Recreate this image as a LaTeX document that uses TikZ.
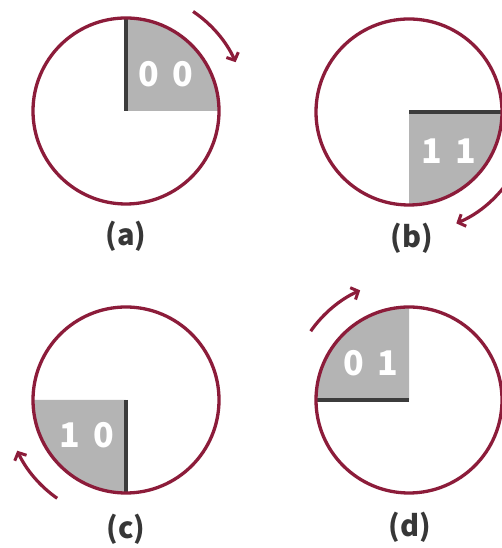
\documentclass[tikz,border=0pt]{standalone}
\usepackage{fontspec}
\newfontfamily\cjkfont{Noto Sans CJK KR}
\usetikzlibrary{arrows.meta}
\definecolor{ring}{RGB}{140,28,58}
\definecolor{quad}{RGB}{180,180,180}
\definecolor{edge}{RGB}{60,60,60}
\definecolor{labc}{RGB}{55,55,55}
\tikzset{
  ringline/.style={draw=ring, line width=3.3pt},
  quadfill/.style={fill=quad},
  edgeline/.style={draw=edge, line width=3.4pt},
  rotarrow/.style={draw=ring, line width=3.2pt, -{Straight Barb[length=6pt,width=13pt,line width=3pt]}},
  digits/.style={text=white, font=\cjkfont\bfseries\fontsize{34}{34}\selectfont, inner sep=0pt},
  caption/.style={text=labc, font=\cjkfont\bfseries\fontsize{29}{29}\selectfont, inner sep=0pt}
}
\begin{document}
\begin{tikzpicture}[x=1pt,y=1pt]
\useasboundingbox (0,0) rectangle (501,548);
\fill[white] (0,0) rectangle (501,548);
\def\R{93}
% centres
\coordinate (A) at (126,437);
\coordinate (B) at (409,436);
\coordinate (C) at (126,148);
\coordinate (D) at (409,148);
% (a) top-right quadrant
\fill[quadfill] (A) -- ++(90:\R) arc (90:0:\R) -- cycle;
\draw[edgeline] (A) -- ++(90:\R);
\draw[ringline] (A) circle (\R);
\node[digits] (ta) at (166,474) {0\hspace{14pt}0};
\draw[rotarrow] (A) ++(56:120) arc (56:24:120);
\node[caption] (la) at (126,312) {(a)};
% (b) bottom-right quadrant
\fill[quadfill] (B) -- ++(0:\R) arc (0:-90:\R) -- cycle;
\draw[edgeline] (B) -- ++(0:\R);
\draw[ringline] (B) circle (\R);
\node[digits] (tb) at (449,397) {1\hspace{14pt}1};
\draw[rotarrow] (B) ++(-25:121) arc (-25:-67:121);
\node[caption] (lb) at (412,310) {(b)};
% (c) bottom-left quadrant
\fill[quadfill] (C) -- ++(270:\R) arc (270:180:\R) -- cycle;
\draw[edgeline] (C) -- ++(270:\R);
\draw[ringline] (C) circle (\R);
\node[digits] (tc) at (87,113) {1\hspace{14pt}0};
\draw[rotarrow] (C) ++(235:120) arc (235:205:120);
\node[caption] (lc) at (126,19) {(c)};
% (d) top-left quadrant
\fill[quadfill] (D) -- ++(180:\R) arc (180:90:\R) -- cycle;
\draw[edgeline] (D) -- ++(180:\R);
\draw[ringline] (D) circle (\R);
\node[digits] (td) at (371,185) {0\hspace{14pt}1};
\draw[rotarrow] (D) ++(145:120) arc (145:114:120);
\node[caption] (ld) at (410,21) {(d)};
\end{tikzpicture}
\end{document}
